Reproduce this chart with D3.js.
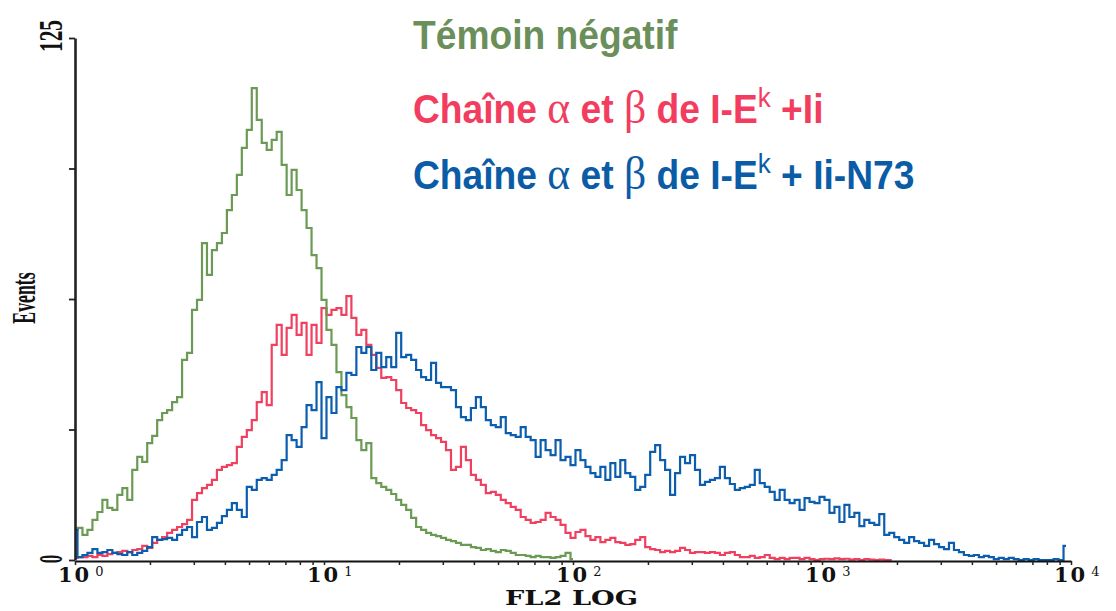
<!DOCTYPE html>
<html>
<head>
<meta charset="utf-8">
<script src="https://cdn.jsdelivr.net/npm/d3@7"></script>
<style>
  body { margin: 0; background: #fff; }
</style>
</head>
<body>
<div id="chart"></div>
<script>
const WIDTH = 1116;
const HEIGHT = 611;

// histogram counts, one value per channel, 50 channels per decade (channel i = 10^(i/50))
const green = [
  7.2, 7.7, 6.0, 7.2, 9.6, 11.5, 14.4, 12.5, 12.0, 15.6,
  17.2, 14.4, 21.6, 24.7, 23.5, 28.0, 29.7, 33.5, 35.2, 35.9,
  37.8, 39.0, 47.9, 49.6, 59.9, 62.3, 75.9, 68.3, 74.2, 75.9,
  78.3, 83.8, 87.4, 92.2, 98.7, 103.0, 113.0, 105.4, 99.9, 98.2,
  100.6, 102.5, 94.6, 87.4, 93.4, 88.6, 83.8, 79.5, 73.0, 69.9,
  62.3, 55.1, 51.5, 45.0, 39.5, 36.6, 34.0, 28.7, 26.3, 28.0,
  19.6, 18.4, 17.5, 16.8, 15.8, 14.4, 13.2, 12.0, 10.1, 7.9,
  7.2, 6.5, 6.0, 5.7, 5.3, 4.8, 4.5, 4.1, 3.6, 3.6,
  3.1, 2.9, 2.4, 2.6, 2.2, 1.9, 2.4, 2.2, 1.7, 1.2,
  1.2, 1.0, 0.7, 1.0, 0.7, 0.7, 0.5, 0.7, 1.0, 1.7,
  0.2
];

const red = [
  0.5, 0.7, 0.7, 1.0, 0.7, 1.2, 1.0, 1.4, 1.7, 1.9,
  2.2, 1.9, 2.4, 2.6, 3.4, 2.9, 4.1, 4.8, 5.5, 6.5,
  7.2, 7.9, 8.6, 9.6, 14.4, 16.0, 17.2, 18.0, 19.2, 21.6,
  22.3, 22.7, 23.2, 27.1, 29.5, 31.1, 33.5, 37.8, 40.2, 37.1,
  51.5, 56.3, 49.1, 55.6, 58.7, 53.9, 56.8, 49.1, 56.3, 52.0,
  60.3, 58.7, 59.9, 60.3, 58.7, 63.2, 58.0, 53.9, 55.1, 51.5,
  49.1, 46.0, 43.6, 43.8, 43.1, 40.7, 37.6, 36.4, 35.9, 35.2,
  32.3, 31.1, 29.9, 29.2, 28.3, 26.3, 21.6, 22.3, 27.1, 23.9,
  20.4, 19.2, 18.0, 16.0, 16.3, 15.6, 14.4, 13.6, 12.7, 12.0,
  10.3, 9.6, 8.9, 9.1, 9.6, 11.3, 10.3, 9.6, 8.4, 6.5,
  5.3, 6.7, 7.2, 5.7, 4.8, 5.5, 4.3, 4.8, 5.3, 4.3,
  4.1, 3.6, 3.8, 4.8, 5.5, 3.1, 2.6, 2.4, 1.9, 2.2,
  1.9, 2.2, 2.9, 2.4, 1.7, 1.9, 1.9, 1.7, 1.9, 1.7,
  1.2, 1.7, 1.9, 1.2, 0.7, 0.7, 1.0, 0.5, 0.7, 1.2,
  0.5, 0.2, 0.5, 0.2, 0.5, 0.5, 0.2, 0.5, 0.2, 0,
  0.2, 0.3, 0.2, 0.4, 0.2, 0.3, 0.1, 0.2, 0, 0.2,
  0.1, 0, 0.1, 0, 0
];

const blue = [
  7.2, 0.7, 1.2, 1.7, 2.6, 1.7, 1.9, 2.4, 1.7, 1.4,
  1.2, 1.9, 1.2, 1.7, 2.2, 3.1, 5.5, 4.8, 5.0, 5.3,
  4.8, 6.0, 7.2, 7.9, 5.5, 9.1, 10.3, 7.2, 7.7, 8.9,
  10.5, 12.0, 13.6, 12.0, 10.3, 17.5, 16.8, 19.2, 19.6, 19.2,
  20.4, 21.6, 23.9, 29.9, 28.7, 27.1, 31.8, 37.1, 35.9, 42.6,
  29.2, 39.0, 35.2, 41.4, 40.7, 44.8, 44.3, 51.0, 49.6, 51.0,
  45.5, 49.6, 46.2, 48.6, 46.2, 54.4, 48.6, 49.1, 47.9, 45.5,
  43.8, 43.1, 47.2, 42.4, 41.4, 41.4, 40.7, 36.6, 34.2, 33.5,
  36.4, 39.0, 36.6, 33.5, 32.3, 31.8, 34.2, 30.4, 29.9, 29.5,
  31.8, 29.5, 28.7, 24.7, 28.7, 26.3, 25.1, 28.7, 23.9, 24.7,
  22.7, 26.3, 23.9, 22.3, 20.8, 19.9, 22.3, 19.2, 23.2, 19.9,
  23.9, 20.8, 19.9, 16.8, 17.5, 20.4, 25.9, 27.5, 23.9, 21.6,
  15.6, 20.8, 24.7, 23.2, 25.1, 21.6, 18.0, 18.7, 19.2, 19.6,
  22.3, 19.6, 18.2, 16.8, 17.2, 17.5, 18.0, 21.6, 18.4, 17.5,
  16.3, 14.4, 16.8, 14.4, 13.6, 14.4, 12.0, 14.8, 13.9, 13.6,
  15.1, 14.4, 11.3, 12.7, 9.1, 13.2, 10.3, 11.3, 8.1, 9.6,
  8.9, 8.4, 11.0, 6.0, 6.5, 5.5, 4.8, 4.1, 5.5, 4.5,
  4.1, 3.4, 4.8, 3.8, 3.1, 2.6, 4.1, 2.4, 1.9, 1.2,
  1.0, 1.2, 0.7, 1.0, 0.7, 0.2, 0.5, 0.2, 0.5, 0.2,
  0, 0.2, 0, 0.2, 0, 0, 0, 0.2, 0, 3.4
];

const CHANNELS_PER_DECADE = 50;
const xDecades = [1, 10, 100, 1000, 10000];
const yTicks = [0, 31.25, 62.5, 93.75, 125];

const series = [
  { name: 'red', values: red, color: '#f0405f' },
  { name: 'green', values: green, color: '#6b9a55' },
  { name: 'blue', values: blue, color: '#0b5eae' },
];

const svg = d3.select('#chart')
  .append('svg')
  .attr('width', WIDTH)
  .attr('height', HEIGHT)
  .style('font-family', 'DejaVu Serif');

const x = d3.scaleLog().domain([1, 10000]).range([75, 1071]);
const y = d3.scaleLinear().domain([0, 125]).range([560, 38]);

// curves
const line = d3.line()
  .x((d, i) => x(Math.pow(10, i / CHANNELS_PER_DECADE)))
  .y(d => y(d))
  .curve(d3.curveStep);

svg.selectAll('path.curve')
  .data(series)
  .join('path')
  .attr('class', 'curve')
  .attr('fill', 'none')
  .attr('stroke', d => d.color)
  .attr('stroke-width', 2.2)
  .attr('d', d => line(d.values));

// axes
const minorTicks = [];
for (let e = 0; e < 4; e++) {
  for (let k = 1; k < 10; k++) minorTicks.push(k * Math.pow(10, e));
}
minorTicks.push(10000);

const xAxis = svg.append('g')
  .attr('transform', `translate(0, 561)`)
  .call(d3.axisBottom(x).tickValues(minorTicks).tickFormat('').tickSize(4).tickSizeOuter(0));
xAxis.select('.domain').attr('stroke', '#111').attr('stroke-width', 2.2);
xAxis.selectAll('.tick line').attr('stroke', '#222').attr('stroke-width', 1.5);

const yAxis = svg.append('g')
  .attr('transform', `translate(75, 0)`)
  .call(d3.axisLeft(y).tickValues(yTicks).tickFormat('').tickSize(6).tickSizeOuter(0));
yAxis.select('.domain').attr('stroke', '#222').attr('stroke-width', 2.6);
yAxis.selectAll('.tick line').attr('stroke', '#222').attr('stroke-width', 1.8);

// x tick labels 10^n
const decadeLabels = svg.append('g')
  .selectAll('text')
  .data(xDecades)
  .join('text')
  .attr('x', d => x(d) - 17)
  .attr('y', 582)
  .attr('fill', '#111')
  .attr('font-weight', 'bold')
  .attr('font-size', 21)
  .attr('letter-spacing', 2);
decadeLabels.append('tspan').text('10');
decadeLabels.append('tspan')
  .attr('dx', 4)
  .attr('dy', -6)
  .attr('font-size', 13)
  .attr('font-weight', 'normal')
  .text(d => String(Math.round(Math.log10(d))));

svg.append('text')
  .attr('x', 505)
  .attr('y', 605)
  .attr('fill', '#111')
  .attr('font-weight', 'bold')
  .attr('font-size', 21)
  .attr('textLength', 133)
  .attr('lengthAdjust', 'spacingAndGlyphs')
  .text('FL2 LOG');

// y labels (rotated, condensed)
function yLabel(txt, cx, cy, size, sx) {
  svg.append('text')
    .attr('transform', `translate(${cx}, ${cy}) rotate(-90) scale(${sx}, 1)`)
    .attr('text-anchor', 'middle')
    .attr('fill', '#111')
    .attr('font-family', 'Liberation Serif')
    .attr('font-weight', 'bold')
    .attr('font-size', size)
    .text(txt);
}
yLabel('125', 62, 36, 34, 0.63);
yLabel('Events', 35, 298, 33, 0.54);
yLabel('0', 62, 559, 34, 0.5);

// legend
const legend = [
  { color: '#6b8f5a', y: 49, parts: [['Témoin négatif']] },
  { color: '#f23d5f', y: 123, parts: [['Chaîne '], ['α', 'g'], [' et '], ['β', 'g'], [' de I-E'], ['k', 's'], [' +Ii', 'b']] },
  { color: '#0b5ca6', y: 189, parts: [['Chaîne '], ['α', 'g'], [' et '], ['β', 'g'], [' de I-E'], ['k', 's'], [' + Ii-N73', 'b']] },
];

legend.forEach(row => {
  const t = svg.append('g')
    .attr('transform', `translate(413, ${row.y}) scale(0.93, 1)`)
    .append('text')
    .attr('fill', row.color)
    .attr('font-family', 'Liberation Sans, Arial, sans-serif')
    .attr('font-weight', 'bold')
    .attr('font-size', 40)
    .attr('xml:space', 'preserve');
  row.parts.forEach(([txt, kind]) => {
    const s = t.append('tspan').text(txt);
    if (kind === 'g') {
      s.attr('font-family', 'Liberation Serif').attr('font-weight', 'normal').attr('font-size', 47);
    } else if (kind === 's') {
      s.attr('font-weight', 'normal').attr('font-size', 28).attr('dy', -16);
    } else if (kind === 'b') {
      s.attr('dy', 16);
    }
  });
});
</script>
</body>
</html>
